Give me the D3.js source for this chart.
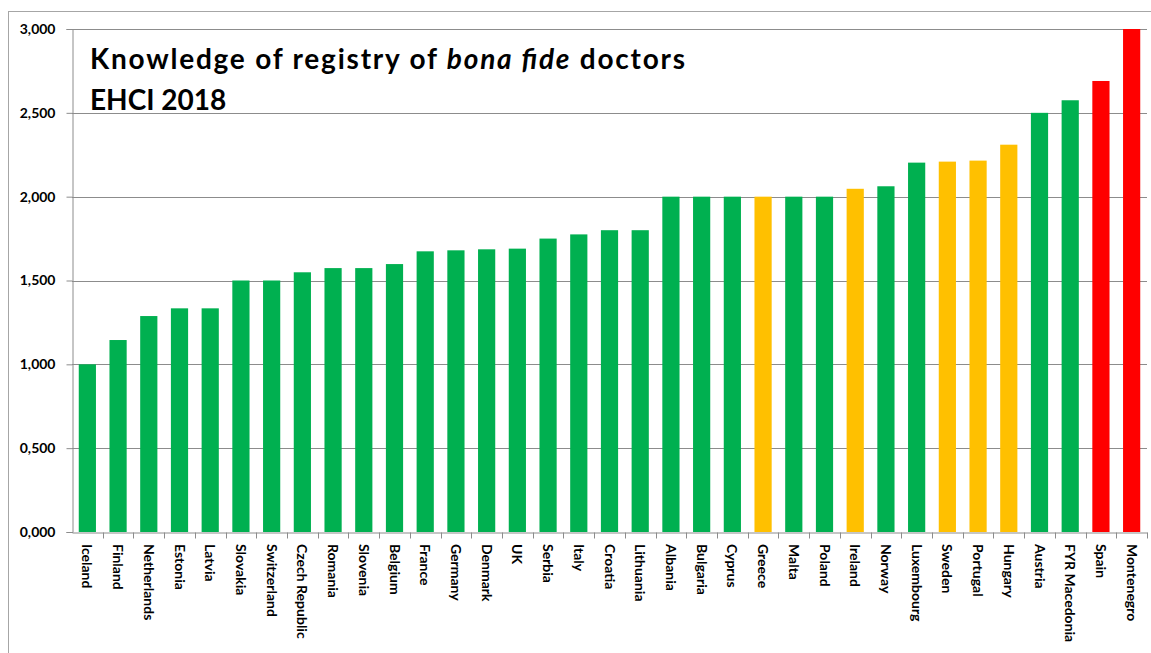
<!DOCTYPE html>
<html>
<head>
<meta charset="utf-8">
<script src="https://cdn.jsdelivr.net/npm/d3@7"></script>
<style>
  body { margin: 0; background: #fff; }
  text { font-family: Lato, "Open Sans", sans-serif; }
</style>
</head>
<body>
<div id="chart"></div>
<script>
(function () {

var countries = ['Iceland', 'Finland', 'Netherlands', 'Estonia', 'Latvia', 'Slovakia', 'Switzerland',
  'Czech Republic', 'Romania', 'Slovenia', 'Belgium', 'France', 'Germany', 'Denmark', 'UK', 'Serbia',
  'Italy', 'Croatia', 'Lithuania', 'Albania', 'Bulgaria', 'Cyprus', 'Greece', 'Malta', 'Poland',
  'Ireland', 'Norway', 'Luxembourg', 'Sweden', 'Portugal', 'Hungary', 'Austria', 'FYR Macedonia',
  'Spain', 'Montenegro'];

var scores = [1.000, 1.145, 1.288, 1.334, 1.334, 1.500, 1.500, 1.549, 1.574, 1.574, 1.598, 1.674,
  1.680, 1.686, 1.690, 1.750, 1.775, 1.800, 1.800, 2.000, 2.000, 2.000, 2.000, 2.000, 2.000,
  2.047, 2.062, 2.203, 2.209, 2.215, 2.310, 2.500, 2.575, 2.690, 3.000];

var grades = ['g', 'g', 'g', 'g', 'g', 'g', 'g', 'g', 'g', 'g', 'g', 'g', 'g', 'g', 'g', 'g', 'g', 'g', 'g',
  'g', 'g', 'g', 'y', 'g', 'g', 'y', 'g', 'g', 'y', 'y', 'y', 'g', 'g', 'r', 'r'];

var yTicks = [0, 0.5, 1, 1.5, 2, 2.5, 3];

var width = 1151, height = 653;
var margin = {top: 29, right: 4, bottom: 121, left: 72};

var svg = d3.select('#chart')
            .append('svg')
            .attr('width', width)
            .attr('height', height);

// outer frame
svg.append('rect')
   .attr('x', 8.5).attr('y', 11.5)
   .attr('width', width - 8).attr('height', height)
   .attr('fill', 'none')
   .attr('stroke', '#a6a6a6');

var x = d3.scaleBand()
          .domain(countries)
          .range([margin.left, width - margin.right])
          .paddingInner(0.44)
          .paddingOuter(0.22);

var y = d3.scaleLinear()
          .domain([0, 3])
          .range([height - margin.bottom, margin.top]);

var color = d3.scaleOrdinal()
              .domain(['g', 'y', 'r'])
              .range(['#00b050', '#ffc000', '#ff0000']);

var fmt = d3.formatLocale({decimal: ',', thousands: '.', grouping: [3], currency: ['', '']}).format('.3f');

// gridlines
svg.append('g')
   .selectAll('line')
   .data(yTicks.filter(function (d) { return d > 0; }))
   .enter().append('line')
   .attr('x1', margin.left).attr('x2', width - margin.right)
   .attr('y1', function (d) { return Math.round(y(d)) + 0.5; })
   .attr('y2', function (d) { return Math.round(y(d)) + 0.5; })
   .attr('stroke', '#8c8c8c');

// bars
svg.append('g')
   .selectAll('rect')
   .data(countries)
   .enter().append('rect')
   .attr('x', function (d) { return x(d); })
   .attr('y', function (d, i) { return y(scores[i]); })
   .attr('width', x.bandwidth())
   .attr('height', function (d, i) { return y(0) - y(scores[i]); })
   .attr('fill', function (d, i) { return color(grades[i]); });

// y axis
var yAxis = svg.append('g')
   .attr('transform', 'translate(' + (margin.left + 0.5) + ',0)')
   .call(d3.axisLeft(y).tickValues(yTicks).tickFormat(fmt).tickSize(6).tickPadding(11));

// x axis
var xAxis = svg.append('g')
   .attr('transform', 'translate(0,' + (Math.round(y(0)) + 0.5) + ')')
   .call(d3.axisBottom(x).tickSize(0).tickFormat(''));

xAxis.selectAll('.sep')
   .data(countries)
   .enter().append('line')
   .attr('class', 'sep')
   .attr('x1', function (d) { return Math.round(x(d) + x.bandwidth() + x.step() * 0.22) + 0.5; })
   .attr('x2', function (d) { return Math.round(x(d) + x.bandwidth() + x.step() * 0.22) + 0.5; })
   .attr('y1', 0).attr('y2', 6)
   .attr('stroke', '#8c8c8c');

svg.selectAll('.domain').attr('stroke', '#8c8c8c');
yAxis.selectAll('.tick line').attr('stroke', '#8c8c8c');
yAxis.selectAll('.tick text')
     .attr('font-size', 14)
     .attr('font-weight', 'bold')
     .attr('fill', '#000');

// category labels, rotated
svg.append('g')
   .selectAll('text')
   .data(countries)
   .enter().append('text')
   .attr('transform', function (d) {
     return 'translate(' + (x(d) + x.bandwidth() / 2 - 5) + ',' + (y(0) + 12) + ') rotate(90)';
   })
   .attr('font-size', 14)
   .attr('font-weight', 'bold')
   .attr('text-anchor', 'start')
   .attr('fill', '#000')
   .text(function (d) { return d; });

// title
var t1 = svg.append('text')
   .attr('x', 90).attr('y', 69)
   .attr('font-size', 28)
   .attr('font-weight', 'bold')
   .attr('fill', '#000')
   .attr('textLength', 595)
   .attr('lengthAdjust', 'spacing');
t1.append('tspan').text('Knowledge of registry of ');
t1.append('tspan').attr('font-style', 'italic').text('bona fide');
t1.append('tspan').text(' doctors');

svg.append('text')
   .attr('x', 90).attr('y', 110)
   .attr('font-size', 28)
   .attr('font-weight', 'bold')
   .attr('fill', '#000')
   .text('EHCI 2018');

})();
</script>
</body>
</html>
